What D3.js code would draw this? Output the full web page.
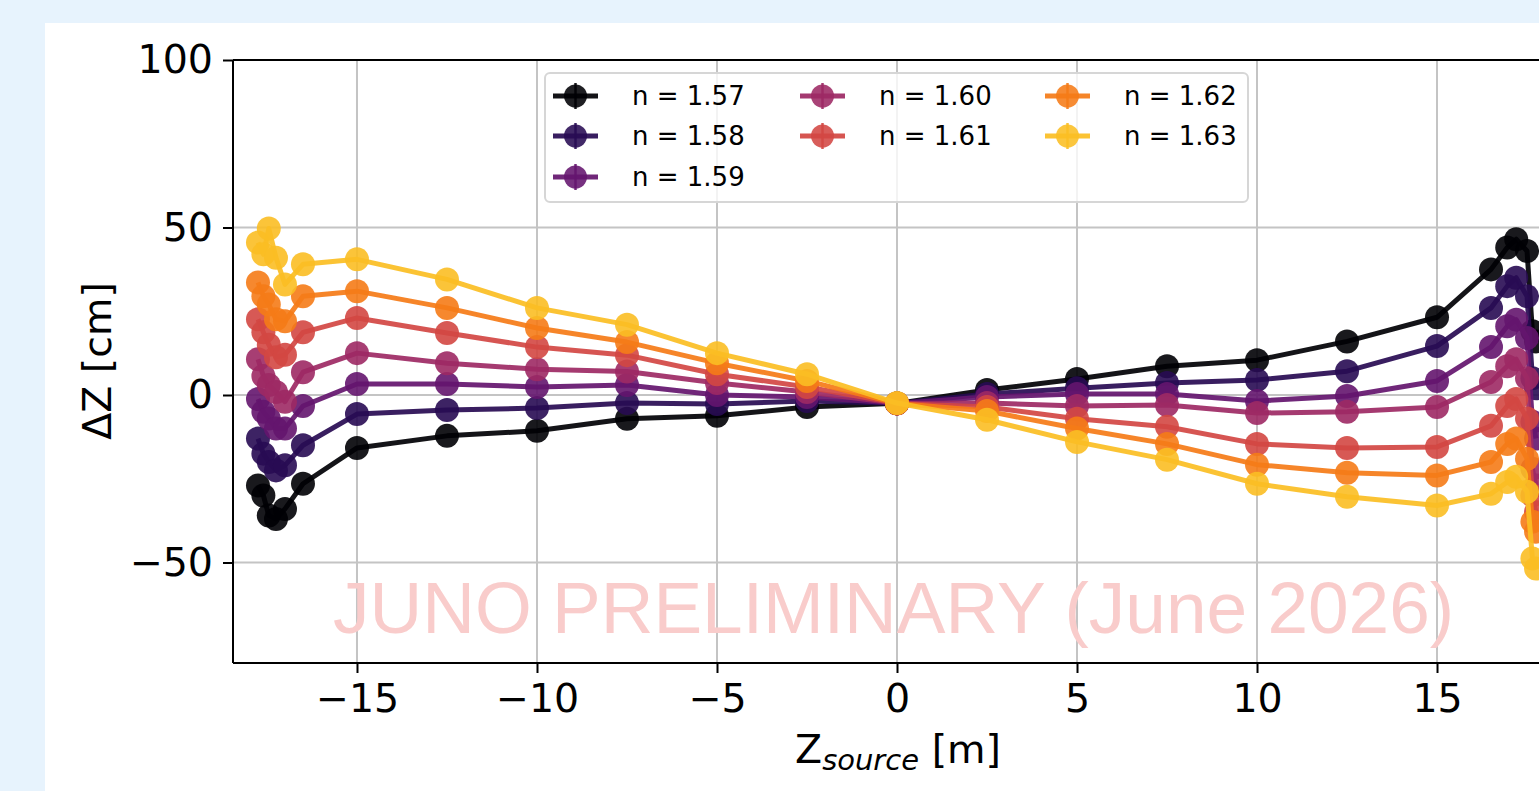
<!DOCTYPE html>
<html>
<head>
<meta charset="utf-8">
<script src="https://cdn.jsdelivr.net/npm/d3@7"></script>
<style>
  html, body { margin: 0; padding: 0; background: #e7f3fd; overflow: hidden; }
  svg { display: block; }
</style>
</head>
<body>
<svg id="chart" width="1539" height="791"></svg>
<script>
// ---------------- DATA ----------------
const zSource = [-17.75, -17.6, -17.45, -17.25, -17.0, -16.5,
  -15, -12.5, -10, -7.5, -5, -2.5, 0, 2.5, 5, 7.5, 10, 12.5, 15,
  16.5, 16.95, 17.2, 17.5, 17.65, 17.75];

const seriesNames = ["n = 1.57", "n = 1.58", "n = 1.59", "n = 1.60", "n = 1.61", "n = 1.62", "n = 1.63"];

const dz157 = [-27, -30, -36, -37, -34, -26.5,
  -15.8, -12.2, -10.7, -7.1, -6.2, -3.6, -2.5, 1.5, 4.8, 8.6, 10.4, 16, 23.2,
  37.5, 44, 46.5, 43, 19, 16];
const dz158 = [-13, -17.5, -20, -22.5, -21, -15,
  -5.7, -4.5, -3.9, -2.4, -2.7, -1.8, -2.5, 0.3, 2, 3.6, 4.5, 7.1, 14.6,
  26, 32.5, 35, 29.5, 5, 2];
const dz159 = [-1.2, -5, -7, -10, -10, -3.3,
  3.3, 3.3, 2.4, 3, 0, -0.6, -2.5, -0.6, 0.3, 0.3, -1.8, -0.3, 4.2,
  14.3, 20.5, 22.5, 17, -8, -13];
const dz160 = [10.7, 5.7, 3, 0.9, -2, 6.8,
  12.5, 9.5, 7.7, 7, 3.6, 0.9, -2.5, -2.4, -3.3, -3, -5.4, -5, -3.6,
  3.9, 8.6, 10.7, 5, -22, -27];
const dz161 = [22.6, 18.7, 15, 11.3, 12, 18.7,
  23, 18.5, 14.3, 11.9, 6.2, 2.4, -2.5, -3.6, -7.1, -9.5, -14.6, -15.8, -15.5,
  -9.2, -3.3, -1.2, -7, -30, -35];
const dz162 = [33.6, 29.5, 27, 22.6, 22, 29.5,
  31, 26, 20, 15.8, 9.5, 4.2, -2.5, -4.8, -10, -14.6, -20.8, -23.2, -24,
  -20, -14.6, -13, -19, -37.8, -40.8];
const dz163 = [45.5, 42, 49.7, 41, 33, 39,
  40.5, 34.5, 26, 21, 12.5, 6.2, -2.4, -7.4, -14, -19.3, -26.5, -30.4, -33,
  -29.5, -26, -24.4, -28.9, -48.8, -51.8];

const xTicks = [-15, -10, -5, 0, 5, 10, 15];
const yTicks = [-50, 0, 50, 100];

const allSeries = [dz157, dz158, dz159, dz160, dz161, dz162, dz163];

// ---------------- LAYOUT ----------------
const svg = d3.select("#chart");
const W = 1539, H = 791;
const plot = { left: 233, top: 60, right: 1561, bottom: 663 };
const fontMain = "'DejaVu Sans', sans-serif";
const fs = 39.5;

svg.append("rect").attr("x", 45).attr("y", 23).attr("width", W - 45).attr("height", H - 23).attr("fill", "#ffffff");

const x = d3.scaleLinear().domain([-18.444, 18.444]).range([plot.left, plot.right]);
const y = d3.scaleLinear().domain([-80, 100]).range([plot.bottom, plot.top]);
const color = i => d3.interpolateInferno(i / 6 * 0.85);

svg.append("defs").append("clipPath").attr("id", "clip")
  .append("rect").attr("x", plot.left).attr("y", plot.top)
  .attr("width", plot.right - plot.left).attr("height", plot.bottom - plot.top);

// grid
const grid = svg.append("g");
grid.selectAll("line.gx").data(xTicks).enter().append("line")
  .attr("x1", d => x(d)).attr("x2", d => x(d))
  .attr("y1", plot.top).attr("y2", plot.bottom)
  .attr("stroke", "#c4c4c4").attr("stroke-width", 2);
grid.selectAll("line.gy").data(yTicks).enter().append("line")
  .attr("x1", plot.left).attr("x2", plot.right)
  .attr("y1", d => y(d)).attr("y2", d => y(d))
  .attr("stroke", "#c4c4c4").attr("stroke-width", 2);

// watermark
svg.append("text")
  .attr("x", 333).attr("y", 633)
  .attr("font-family", "'Liberation Sans', Arial, sans-serif")
  .attr("font-size", 73)
  .attr("fill", "#f9cccb")
  .text("JUNO PRELIMINARY (June 2026)");

// data
const dataG = svg.append("g").attr("clip-path", "url(#clip)");
const line = d3.line().x(d => x(d[0])).y(d => y(d[1]));
allSeries.forEach((vals, i) => {
  const pts = zSource.map((z, k) => [z, vals[k]]);
  const g = dataG.append("g");
  g.append("path").datum(pts).attr("d", line)
    .attr("fill", "none").attr("stroke", color(i)).attr("stroke-width", 5)
    .attr("stroke-linejoin", "round").attr("opacity", 0.92);
  g.selectAll("circle").data(pts).enter().append("circle")
    .attr("cx", d => x(d[0])).attr("cy", d => y(d[1])).attr("r", 12)
    .attr("fill", color(i)).attr("opacity", 0.9);
});

// axes
const fmt = d => d < 0 ? "\u2212" + Math.abs(d) : String(d);
const xAxis = d3.axisBottom(x).tickValues(xTicks).tickSize(10).tickPadding(11).tickFormat(fmt);
const yAxis = d3.axisLeft(y).tickValues(yTicks).tickSize(10).tickPadding(10).tickFormat(fmt);

const gx = svg.append("g").attr("transform", `translate(0,${plot.bottom})`).call(xAxis);
const gy = svg.append("g").attr("transform", `translate(${plot.left},0)`).call(yAxis);
[gx, gy].forEach(g => {
  g.select(".domain").remove();
  g.selectAll(".tick line").attr("stroke", "#000").attr("stroke-width", 2);
  g.selectAll(".tick text").attr("font-family", fontMain).attr("font-size", fs).attr("fill", "#000");
});

// spines
svg.append("line").attr("x1", plot.left).attr("x2", plot.right).attr("y1", plot.bottom).attr("y2", plot.bottom).attr("stroke", "#000").attr("stroke-width", 2);
svg.append("line").attr("x1", plot.left).attr("x2", plot.right).attr("y1", plot.top).attr("y2", plot.top).attr("stroke", "#000").attr("stroke-width", 2);
svg.append("line").attr("x1", plot.left).attr("x2", plot.left).attr("y1", plot.top).attr("y2", plot.bottom).attr("stroke", "#000").attr("stroke-width", 2);

// axis labels
const xl = svg.append("text").attr("x", 898).attr("y", 763).attr("text-anchor", "middle")
  .attr("font-family", fontMain).attr("font-size", fs).attr("fill", "#000");
xl.append("tspan").text("Z");
xl.append("tspan").attr("font-size", 29).attr("font-style", "italic").attr("dy", 7).text("source");
xl.append("tspan").attr("dy", -7).text(" [m]");

svg.append("text").attr("transform", "translate(111,361) rotate(-90)")
  .attr("text-anchor", "middle").attr("font-family", fontMain).attr("font-size", fs).attr("fill", "#000")
  .text("\u0394Z [cm]");

// legend
const lg = svg.append("g");
lg.append("rect").attr("x", 545).attr("y", 73).attr("width", 703).attr("height", 129)
  .attr("rx", 5).attr("fill", "#ffffff").attr("fill-opacity", 0.8)
  .attr("stroke", "#d6d6d6").attr("stroke-width", 2);
const colX = [553, 800, 1045];
const rowY = [96, 136, 177];
const layout = [[0, 0], [0, 1], [0, 2], [1, 0], [1, 1], [2, 0], [2, 1]];
seriesNames.forEach((name, i) => {
  const cx = colX[layout[i][0]], cy = rowY[layout[i][1]];
  const c = color(i);
  lg.append("line").attr("x1", cx).attr("x2", cx + 45).attr("y1", cy).attr("y2", cy)
    .attr("stroke", c).attr("stroke-width", 5).attr("opacity", 0.92);
  lg.append("line").attr("x1", cx + 22.5).attr("x2", cx + 22.5).attr("y1", cy - 13).attr("y2", cy + 13)
    .attr("stroke", c).attr("stroke-width", 2.5).attr("opacity", 0.9);
  lg.append("circle").attr("cx", cx + 22.5).attr("cy", cy).attr("r", 11.5)
    .attr("fill", c).attr("opacity", 0.88);
  lg.append("text").attr("x", cx + 79).attr("y", cy + 9)
    .attr("font-family", fontMain).attr("font-size", 26).attr("fill", "#000").text(name);
});
</script>
</body>
</html>
